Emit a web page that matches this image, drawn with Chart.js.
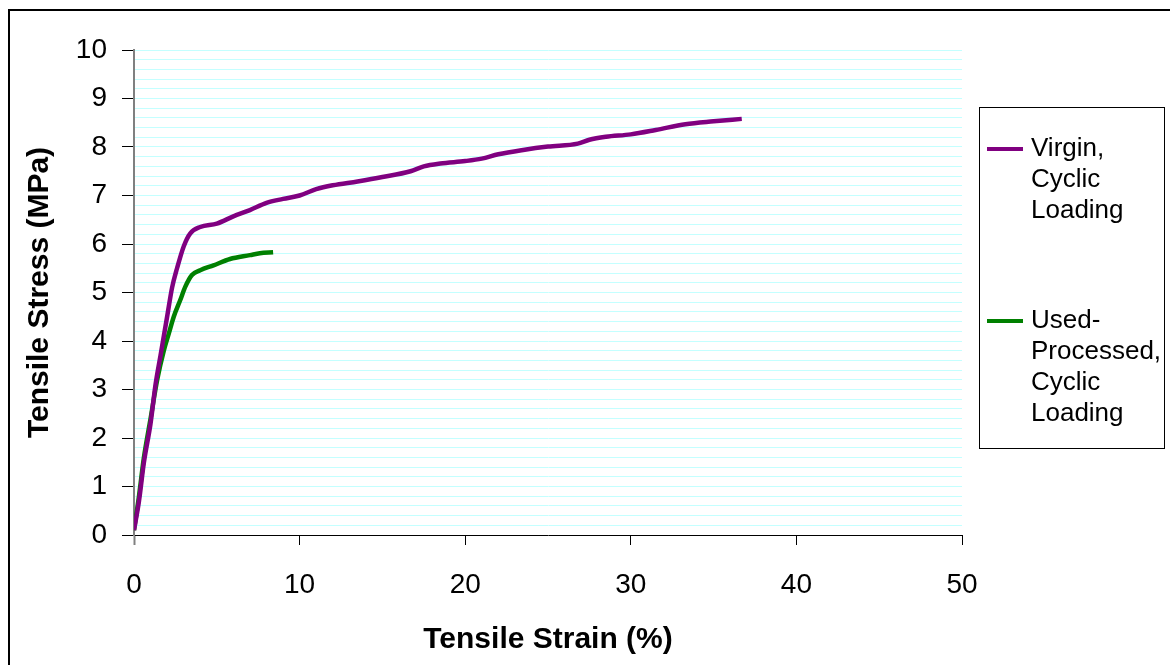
<!DOCTYPE html>
<html>
<head>
<meta charset="utf-8">
<script src="https://cdn.jsdelivr.net/npm/chart.js@4.4.1/dist/chart.umd.min.js"></script>
<style>
html,body{margin:0;padding:0;background:#fff;}
#wrap{width:1170px;height:665px;position:relative;}
</style>
</head>
<body>
<div id="wrap"><canvas id="c" width="1170" height="665"></canvas></div>
<script>
// Tensile strain (%) and stress (MPa)
const virginStrain = [0, 0.3, 0.6, 1.0, 1.3, 1.6, 2.0, 2.3, 2.6, 3.0, 3.4, 4.0, 5.0, 6.0, 7.0, 8.0, 9.0, 10.0, 11.0, 12.0, 13.5, 15.0, 16.7, 17.5, 18.5, 20.0, 21.0, 22.0, 23.5, 25.0, 26.8, 27.5, 28.5, 30.0, 31.5, 33.3, 35.0, 36.7];
const virginStress = [0.1, 0.7, 1.5, 2.3, 3.1, 3.7, 4.5, 5.1, 5.5, 5.95, 6.22, 6.35, 6.42, 6.57, 6.7, 6.85, 6.93, 7.0, 7.13, 7.21, 7.29, 7.38, 7.5, 7.6, 7.66, 7.71, 7.76, 7.85, 7.94, 8.01, 8.07, 8.15, 8.21, 8.26, 8.35, 8.47, 8.53, 8.58];
const usedStrain = [0, 0.3, 0.6, 1.0, 1.4, 1.8, 2.1, 2.4, 2.8, 3.1, 3.5, 4.0, 4.8, 5.8, 7.0, 7.6, 8.4];
const usedStress = [0.1, 0.8, 1.6, 2.4, 3.2, 3.8, 4.15, 4.5, 4.85, 5.12, 5.36, 5.46, 5.56, 5.69, 5.77, 5.81, 5.83];

const seriesNames = ['Virgin, Cyclic Loading', 'Used-Processed, Cyclic Loading'];
const legendLines = [['Virgin,', 'Cyclic', 'Loading'], ['Used-', 'Processed,', 'Cyclic', 'Loading']];
const seriesColors = ['#800080', '#008000'];
const xTitle = 'Tensile Strain (%)';
const yTitle = 'Tensile Stress (MPa)';

const toPoints = (xs, ys) => xs.map((x, i) => ({x: x, y: ys[i]}));

Chart.defaults.font.family = '"Liberation Sans", Arial, sans-serif';
Chart.defaults.color = '#000';

const isInt = v => Math.abs(v - Math.round(v)) < 1e-6;

const decor = {
  id: 'decor',
  afterDraw(chart) {
    const ctx = chart.ctx;
    ctx.save();
    // outer frame
    ctx.strokeStyle = '#000';
    ctx.lineWidth = 2;
    ctx.strokeRect(9, 10, 1300, 800);
    // legend box
    ctx.lineWidth = 1;
    ctx.strokeStyle = '#000';
    ctx.strokeRect(979.5, 107.5, 185, 341);
    const starts = [149, 321];
    ctx.font = '26px "Liberation Sans", Arial, sans-serif';
    ctx.textBaseline = 'middle';
    ctx.textAlign = 'left';
    ctx.fillStyle = '#000';
    chart.data.datasets.forEach((ds, i) => {
      const y0 = starts[i];
      ctx.strokeStyle = ds.borderColor;
      ctx.lineWidth = 4;
      ctx.beginPath();
      ctx.moveTo(987, y0);
      ctx.lineTo(1023, y0);
      ctx.stroke();
      legendLines[i].forEach((t, j) => {
        ctx.fillText(t, 1031, y0 + j * 31);
      });
    });
    ctx.restore();
  }
};

new Chart(document.getElementById('c'), {
  type: 'scatter',
  data: {
    datasets: [
      {label: seriesNames[0], data: toPoints(virginStrain, virginStress), borderColor: seriesColors[0], backgroundColor: seriesColors[0], showLine: true, pointRadius: 0, borderWidth: 4.5, cubicInterpolationMode: 'monotone'},
      {label: seriesNames[1], data: toPoints(usedStrain, usedStress), borderColor: seriesColors[1], backgroundColor: seriesColors[1], showLine: true, pointRadius: 0, borderWidth: 4.5, cubicInterpolationMode: 'monotone'}
    ]
  },
  options: {
    responsive: false,
    animation: false,
    events: [],
    layout: {padding: {left: 0, top: 50, right: 208, bottom: 0}},
    plugins: {legend: {display: false}, tooltip: {enabled: false}},
    scales: {
      x: {
        type: 'linear', min: 0, max: 50,
        afterFit(s) { s.height = 130; },
        ticks: {stepSize: 10, font: {size: 28}, padding: 23, maxRotation: 0},
        grid: {drawOnChartArea: false, drawTicks: true, tickLength: 10,
               tickColor: c => (c.tick && c.tick.value === 0) ? '#808080' : '#000',
               tickWidth: c => (c.tick && c.tick.value === 0) ? 2 : 1},
        border: {display: true, color: '#000', width: 1},
        title: {display: true, text: xTitle, font: {size: 30, weight: 'bold'}, padding: {top: 0, bottom: 7}}
      },
      y: {
        type: 'linear', min: 0, max: 10,
        afterFit(s) { s.width = 134; },
        ticks: {stepSize: 0.2, autoSkip: false, font: {size: 28}, padding: 15,
                callback: v => isInt(v) ? String(Math.round(v)) : ''},
        grid: {drawTicks: true, tickLength: 12,
               color: c => (c.tick && c.tick.value === 0) ? 'rgba(0,0,0,0)' : '#c4ffff',
               tickColor: c => (c.tick && isInt(c.tick.value)) ? '#000' : 'rgba(0,0,0,0)',
               lineWidth: 1},
        border: {display: true, color: '#808080', width: 2},
        title: {display: true, text: yTitle, font: {size: 30, weight: 'bold'}, padding: {top: 22, bottom: 0}}
      }
    }
  },
  plugins: [decor]
});
</script>
</body>
</html>
